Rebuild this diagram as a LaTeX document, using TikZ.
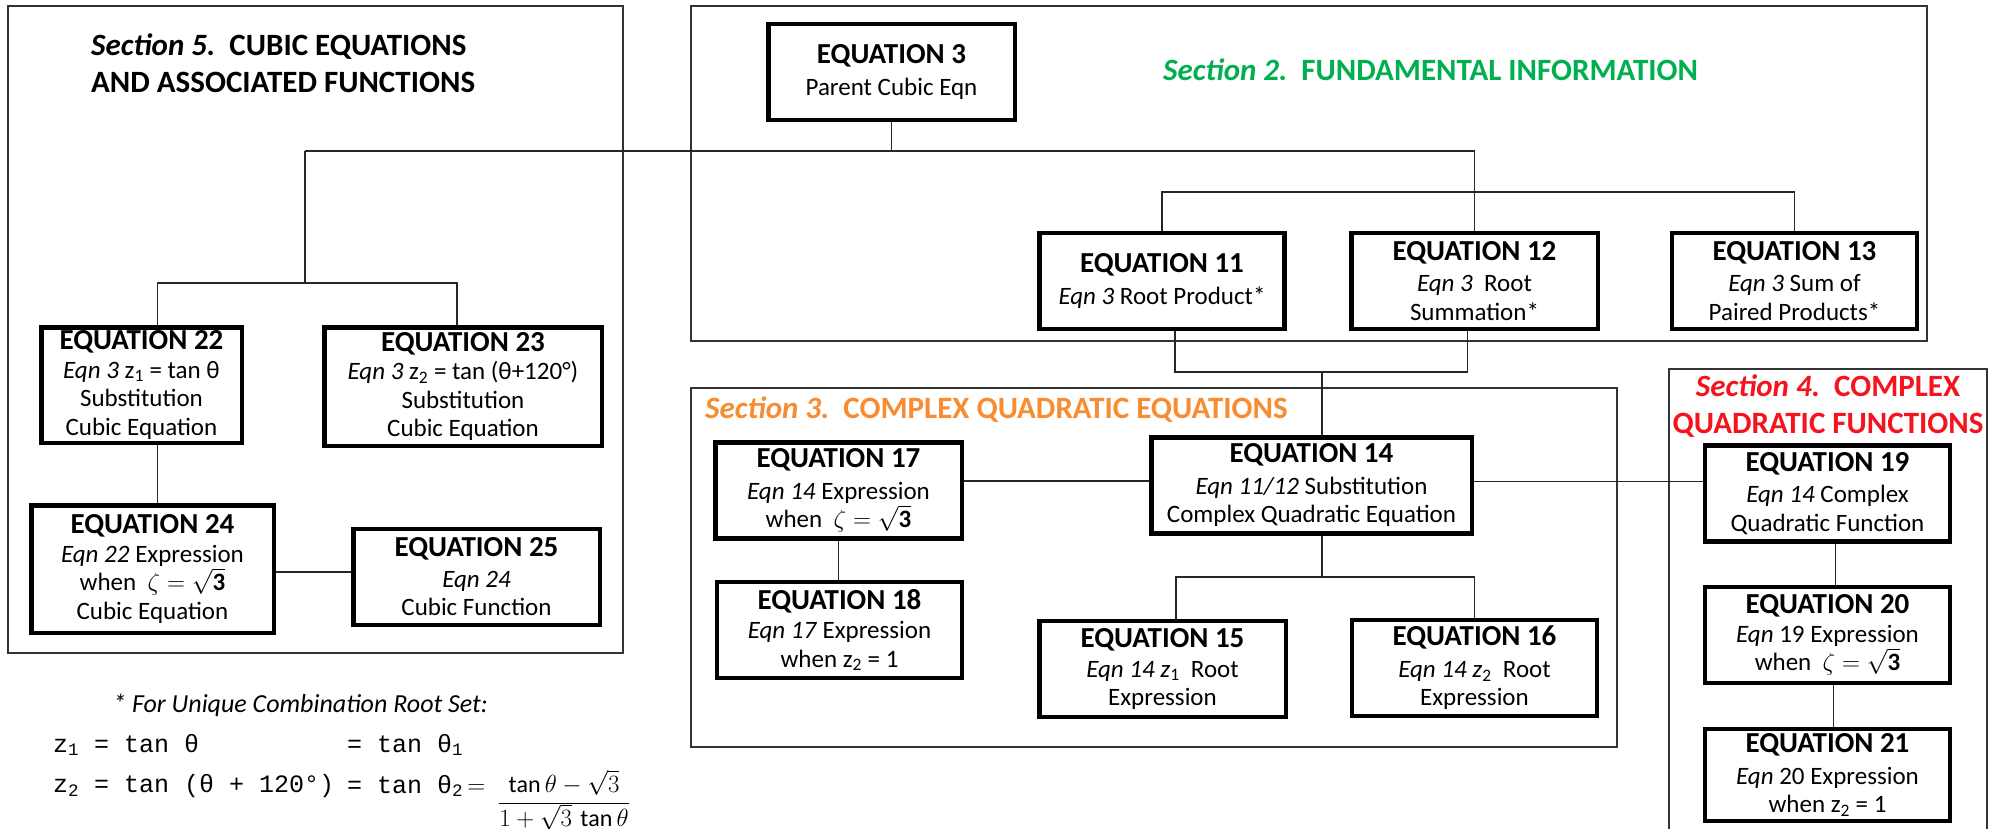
\documentclass[tikz,border=0pt]{standalone}
\usepackage{fontspec}
\setmainfont{Carlito}
\newfontfamily\rootmono{Liberation Mono}
\usepackage{xcolor}
\usetikzlibrary{positioning,calc}
\definecolor{secgreen}{RGB}{0,176,80}
\definecolor{secorange}{RGB}{247,140,50}
\definecolor{secred}{RGB}{245,20,30}
\newcommand{\eqhead}{\fontsize{29}{29}\selectfont\bfseries}
\newcommand{\eqbody}{\fontsize{25}{28.5}\selectfont}
\newcommand{\sechead}{\fontsize{31}{37}\selectfont\bfseries}
\tikzset{
    eqbox/.style={
        rectangle,
        draw=black,
        line width=4.5pt,
        minimum width=245pt,
        minimum height=96pt,
        inner sep=2pt,
        align=center,
        font=\eqbody
    },
    secbox/.style={draw=black!80, line width=1.6pt},
    link/.style={draw=black!85, line width=1.5pt},
    sectitle/.style={font=\sechead, inner sep=0pt},
    rootline/.style={anchor=west, inner sep=0pt, font=\rootmono\fontsize{25}{28}\selectfont}
}

\begin{document}
\begin{tikzpicture}[x=1pt, y=-1pt]
\useasboundingbox[fill=white] (0,0) rectangle (1996,829);

% Section frames
\draw[secbox] (8,6) rectangle (623,653);
\draw[secbox] (691,6) rectangle (1927,341);
\draw[secbox] (691,388) rectangle (1617,747);
\draw[secbox] (1669,835) -- (1669,369) -- (1987,369) -- (1987,835);

% Section titles
\node[sectitle, anchor=west, align=left] (sec5-title) at (91,63.5)
    {\textit{Section 5.}\ \ CUBIC EQUATIONS\\AND ASSOCIATED FUNCTIONS};
\node[sectitle, anchor=west, text=secgreen] (sec2-title) at (1163,70)
    {\textit{Section 2.}\ \ FUNDAMENTAL INFORMATION};
\node[sectitle, anchor=west, text=secorange] (sec3-title) at (705,410)
    {\textit{Section 3.}\ \ COMPLEX QUADRATIC EQUATIONS};
\node[sectitle, align=center, text=secred] (sec4-title) at (1828,406)
    {\textit{Section 4.}\ \ COMPLEX\\QUADRATIC FUNCTIONS};

% Section 2
\node[eqbox, minimum width=246.5pt] (eq3) at (891.5,72)
    {{\eqhead EQUATION 3}\\[3pt] Parent Cubic Eqn};
\node[eqbox] (eq11) at (1162,281)
    {{\eqhead EQUATION 11}\\[3pt] \textit{Eqn 3} Root Product*};
\node[eqbox, minimum width=246.5pt] (eq12) at (1474.5,281)
    {{\eqhead EQUATION 12}\\[3pt] \textit{Eqn 3}\ \ Root\\ Summation*};
\node[eqbox] (eq13) at (1794.5,281)
    {{\eqhead EQUATION 13}\\[3pt] \textit{Eqn 3} Sum of\\ Paired Products*};

% Section 3
\node[eqbox, minimum width=320.5pt] (eq14) at (1311.5,485.5)
    {{\eqhead EQUATION 14}\\[3pt] \textit{Eqn 11/12} Substitution\\ Complex Quadratic Equation};
\node[eqbox, minimum width=246.5pt] (eq15) at (1162.5,669)
    {{\eqhead EQUATION 15}\\[1pt] \textit{Eqn 14 z}\textsubscript{1}\ \ Root\\ Expression};
\node[eqbox] (eq16) at (1474.5,668)
    {{\eqhead EQUATION 16}\\[3pt] \textit{Eqn 14 z}\textsubscript{2}\ \ Root\\ Expression};
\node[eqbox, minimum width=246.5pt] (eq17) at (838.5,490.5)
    {{\eqhead EQUATION 17}\\[3pt] \textit{Eqn 14} Expression\\ when\ \ $\zeta=\sqrt{\mathbf{3}}$};
\node[eqbox] (eq18) at (839.5,630)
    {{\eqhead EQUATION 18}\\[1pt] \textit{Eqn 17} Expression\\ when z\textsubscript{2} = 1};

% Section 4
\node[eqbox] (eq19) at (1827.5,493.5)
    {{\eqhead EQUATION 19}\\[3pt] \textit{Eqn 14} Complex\\ Quadratic Function};
\node[eqbox] (eq20) at (1827.5,635)
    {{\eqhead EQUATION 20}\\ \textit{Eqn} 19 Expression\\ when\ \ $\zeta=\sqrt{\mathbf{3}}$};
\node[eqbox, minimum height=92pt] (eq21) at (1827.5,775)
    {{\eqhead EQUATION 21}\\[3pt] \textit{Eqn} 20 Expression\\ when z\textsubscript{2} = 1};

% Section 5
\node[eqbox, minimum width=200.5pt, minimum height=115.5pt] (eq22) at (141.5,385)
    {{\eqhead EQUATION 22}\\ \textit{Eqn 3} z\textsubscript{1} = tan θ\\ Substitution\\ Cubic Equation};
\node[eqbox, minimum width=277.5pt, minimum height=118.5pt] (eq23) at (463,386.5)
    {{\eqhead EQUATION 23}\\ \textit{Eqn 3} z\textsubscript{2} = tan (θ+120°)\\ Substitution\\ Cubic Equation};
\node[eqbox, minimum width=242.5pt, minimum height=127.5pt] (eq24) at (152.5,569)
    {{\eqhead EQUATION 24}\\ \textit{Eqn 22} Expression\\ when\ \ $\zeta=\sqrt{\mathbf{3}}$\\ Cubic Equation};
\node[eqbox, minimum width=246.5pt] (eq25) at (476.5,577)
    {{\eqhead EQUATION 25}\\[2pt] \textit{Eqn 24}\\ Cubic Function};

% Root set note
\node[anchor=west, font=\fontsize{26}{28}\selectfont\itshape, inner sep=0pt] (note-head) at (113,705)
    {* For Unique Combination Root Set:};
\node[rootline] (note-z1) at (53,745) {z\textsubscript{1} = tan θ};
\node[rootline] (note-t1) at (347,745) {= tan θ\textsubscript{1}};
\node[rootline] (note-z2) at (53,786) {z\textsubscript{2} = tan (θ + 120°)};
\node[rootline] (note-t2) at (347,786)
    {= tan θ\textsubscript{2}\,{\fontsize{25}{28}\selectfont$=$}};
\node[font=\fontsize{24}{28}\selectfont, inner sep=0pt] (note-frac) at (564,800)
    {$\displaystyle\frac{\tan\theta-\sqrt{3}}{1+\sqrt{3}\,\tan\theta}$};

% Connectors
\coordinate (bus3) at (305,151);
\coordinate (fork5) at (305,283);
\coordinate (fork2) at (1474.5,192);
\coordinate (join14) at (1322,372);
\coordinate (fork14) at (1322,577);

\draw[link] (eq3.south) -- (eq3.south |- bus3);
\draw[link] (bus3) -| (eq12.north);
\draw[link] (bus3) -- (fork5);
\draw[link] ([xshift=16pt]eq22.north) |- (fork5) -| ([xshift=-6pt]eq23.north);
\draw[link] (eq11.north) |- (fork2) -| (eq13.north);
\draw[link] ([xshift=13pt]eq11.south) |- (join14) -| ([xshift=-7pt]eq12.south);
\draw[link] (join14) -- (join14 |- eq14.north);
\draw[link] (join14 |- eq14.south) -- (fork14);
\draw[link] ([xshift=13.5pt]eq15.north) |- (fork14) -| (eq16.north);
\draw[link] ([yshift=4.5pt]eq14.west) -- ([yshift=4.5pt]eq14.west -| eq17.east);
\draw[link] ([yshift=4pt]eq14.east) -- ([yshift=4pt]eq14.east -| eq19.west);
\draw[link] (eq17.south) -- (eq17.south |- eq18.north);
\draw[link] ([xshift=16pt]eq22.south) -- ([xshift=16pt]eq22.south |- eq24.north);
\draw[link] ([yshift=-3pt]eq24.east) -- ([yshift=-3pt]eq24.east -| eq25.west);
\draw[link] ([xshift=8pt]eq19.south) -- ([xshift=8pt]eq19.south |- eq20.north);
\draw[link] ([xshift=6pt]eq20.south) -- ([xshift=6pt]eq20.south |- eq21.north);
\end{tikzpicture}
\end{document}
